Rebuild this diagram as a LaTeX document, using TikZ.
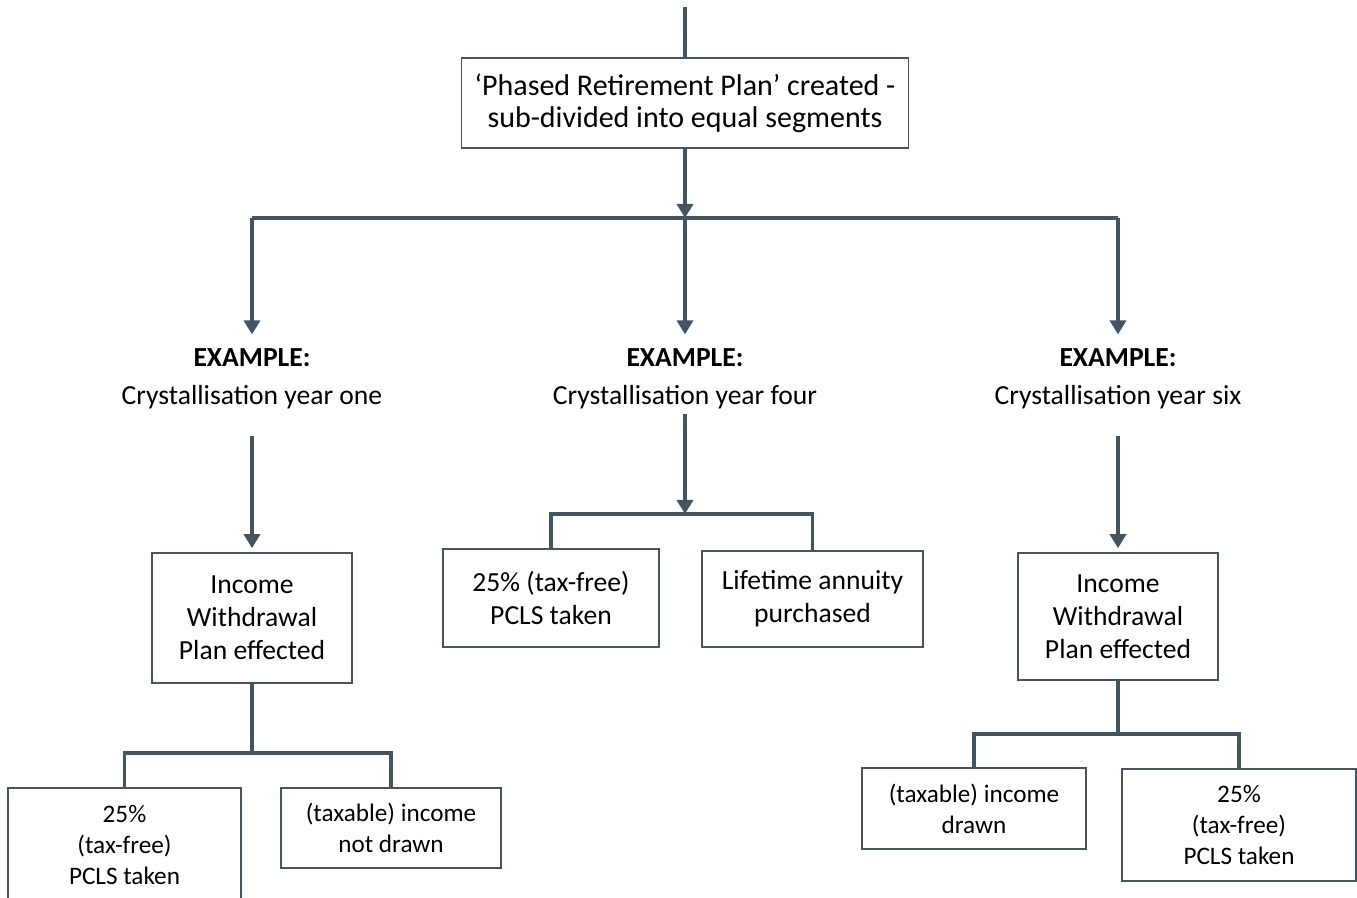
\documentclass[tikz,border=0pt]{standalone}
\usepackage{fontspec}
\setmainfont{Carlito}
\usetikzlibrary{arrows.meta,positioning}
\definecolor{slate}{RGB}{68,84,96}

\begin{document}
\begin{tikzpicture}[x=0.5pt, y=-0.5pt,
    bigtxt/.style={font=\fontsize{15}{16}\selectfont},
    midtxt/.style={font=\fontsize{13.8}{16.5}\selectfont},
    smalltxt/.style={font=\fontsize{12.6}{15.6}\selectfont},
    box/.style={draw=slate, line width=0.8pt, align=center, inner sep=0pt, midtxt},
    lbl/.style={align=center, inner sep=2pt, midtxt},
    wire/.style={draw=slate, line width=1.8pt},
    arr/.style={wire, -{Triangle[width=8pt,length=7pt]}}]
    \useasboundingbox (0,0) rectangle (1357,898);

    % top of the tree
    \coordinate (entry) at (685,7);
    \node[box, bigtxt, minimum width=223.5pt, minimum height=45pt] (plan) at (685,103)
        {‘Phased Retirement Plan’ created -\\sub-divided into equal segments};
    \coordinate (busL) at (252,218);
    \coordinate (busM) at (685,218);
    \coordinate (busR) at (1118,218);

    % the three examples
    \node[lbl] (yrOne) at (252,379) {\textbf{EXAMPLE:}\\[2.5pt]Crystallisation year one};
    \node[lbl] (yrFour) at (685,379) {\textbf{EXAMPLE:}\\[2.5pt]Crystallisation year four};
    \node[lbl] (yrSix) at (1118,379) {\textbf{EXAMPLE:}\\[2.5pt]Crystallisation year six};

    % year one
    \node[box, minimum width=100pt, minimum height=65pt] (incOne) at (252,618)
        {Income\\Withdrawal\\Plan effected};
    \node[box, smalltxt, minimum width=116.5pt, minimum height=57pt] (pclsOne) at (124.5,845)
        {25\%\\(tax-free)\\PCLS taken};
    \node[box, smalltxt, minimum width=110pt, minimum height=40pt] (drawOne) at (391,828)
        {(taxable) income\\not drawn};

    % year four
    \coordinate (hubFour) at (685,514);
    \node[box, minimum width=108pt, minimum height=49pt] (pclsFour) at (551,598)
        {25\% (tax-free)\\PCLS taken};
    \node[box, minimum width=110.5pt, minimum height=48pt] (annFour) at (812.5,599)
        {Lifetime annuity\\purchased};

    % year six
    \node[box, minimum width=100pt, minimum height=63.5pt] (incSix) at (1118,616.5)
        {Income\\Withdrawal\\Plan effected};
    \node[box, smalltxt, minimum width=112pt, minimum height=40.5pt] (drawSix) at (974,808.5)
        {(taxable) income\\drawn};
    \node[box, smalltxt, minimum width=117pt, minimum height=56pt] (pclsSix) at (1239,825)
        {25\%\\(tax-free)\\PCLS taken};

    % connectors
    \draw[wire] (entry) -- (plan.north);
    \draw[arr] (plan) -- (busM);
    \draw[wire] (busL) -- (busR);
    \draw[arr, shorten >=5pt] (busL) -- (yrOne.north);
    \draw[arr, shorten >=5pt] (busM) -- (yrFour.north);
    \draw[arr, shorten >=5pt] (busR) -- (yrSix.north);

    \draw[arr, shorten <=11pt, shorten >=2pt] (yrOne) -- (incOne);
    \draw[wire] (incOne.south) -- ++(0,69) coordinate (hubOne);
    \draw[wire] (pclsOne.north) |- (hubOne) -| (drawOne.north);

    \draw[arr] (yrFour) -- (hubFour);
    \draw[wire] (pclsFour.north) |- (hubFour) -| (annFour.north);

    \draw[arr, shorten <=11pt, shorten >=2pt] (yrSix) -- (incSix);
    \draw[wire] (incSix.south) -- ++(0,53) coordinate (hubSix);
    \draw[wire] (drawSix.north) |- (hubSix) -| (pclsSix.north);
\end{tikzpicture}
\end{document}
